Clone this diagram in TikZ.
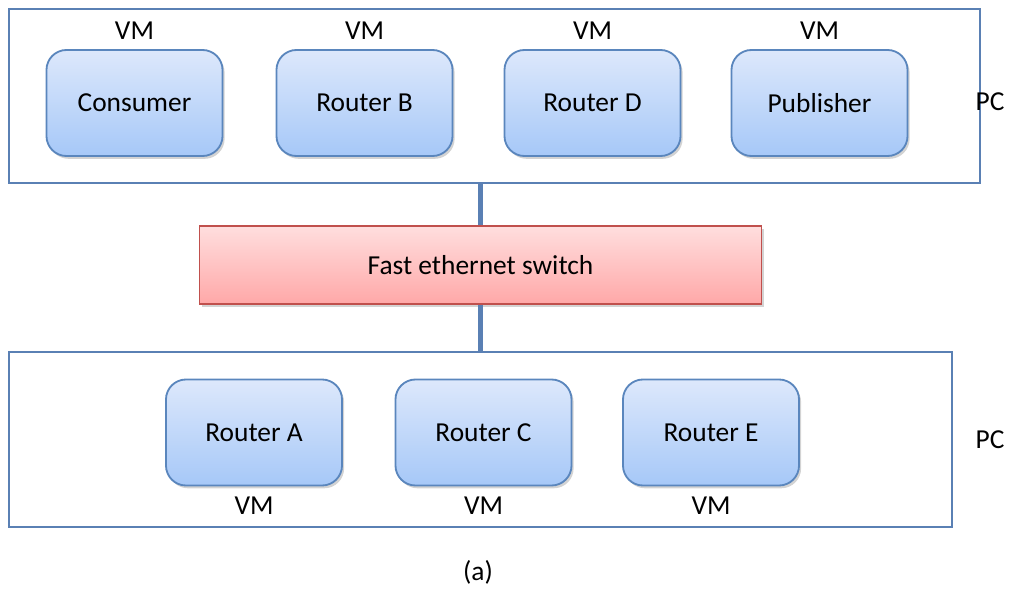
\documentclass[tikz,border=0pt]{standalone}
\usepackage{fontspec}
\setmainfont{Carlito}
\usetikzlibrary{positioning, shadows}

\definecolor{vmline}{HTML}{5A86BD}
\definecolor{vmtop}{HTML}{DDE8FB}
\definecolor{vmbottom}{HTML}{A6C8F8}
\definecolor{swline}{HTML}{C0504D}
\definecolor{swtop}{HTML}{FFDEDE}
\definecolor{swbottom}{HTML}{FFA8A8}
\definecolor{pcline}{HTML}{5A80B4}

\tikzset{
  vmbox/.style={draw=vmline, line width=1.3pt, rounded corners=0.5cm,
    top color=vmtop, bottom color=vmbottom,
    minimum width=4.4cm, minimum height=2.65cm,
    drop shadow={opacity=0.35, shadow xshift=1.5pt, shadow yshift=-2pt}},
  swbox/.style={draw=swline, line width=1.1pt,
    top color=swtop, bottom color=swbottom,
    minimum width=14.05cm, minimum height=1.95cm,
    drop shadow={opacity=0.35, shadow xshift=1.5pt, shadow yshift=-2pt}},
  pcbox/.style={draw=pcline, line width=1.3pt, inner sep=0pt},
  link/.style={draw=pcline, line width=3pt},
  lbl/.style={inner sep=0pt}
}

\begin{document}
\begin{tikzpicture}[x=0.025cm, y=-0.025cm, font=\fontsize{19.5}{23}\selectfont]
\useasboundingbox (0,0) rectangle (1012,590);
% PC frames
\node[pcbox, minimum width=24.275cm, minimum height=4.35cm] (pcTop) at (494.5,96) {};
\node[pcbox, minimum width=23.575cm, minimum height=4.375cm] (pcBottom) at (480.5,439.5) {};
\node[lbl] (pcTopLbl) at (990,102) {PC};
\node[lbl] (pcBottomLbl) at (990,440) {PC};
% switch and links
\node[swbox] (switch) at (480.5,265) {Fast ethernet switch};
\draw[link] (switch.north) -- (switch.north |- pcTop.south);
\draw[link] (switch.south) -- (switch.south |- pcBottom.north);
% upper VMs
\node[vmbox] (consumer) at (134.5,103) {Consumer};
\node[vmbox] (routerB) at (364.5,103) {Router B};
\node[vmbox] (routerD) at (592.5,103) {Router D};
\node[vmbox] (publisher) at (819.5,103) {Publisher};
\foreach \n in {consumer, routerB, routerD, publisher}
  \node[lbl, above=0.47cm of \n.north, anchor=center] {VM};
% lower VMs
\node[vmbox] (routerA) at (254,432.5) {Router A};
\node[vmbox] (routerC) at (483.5,432.5) {Router C};
\node[vmbox] (routerE) at (711,432.5) {Router E};
\foreach \n in {routerA, routerC, routerE}
  \node[lbl, below=0.47cm of \n.south, anchor=center] {VM};
\node[lbl] (caption) at (478,572) {(a)};
\end{tikzpicture}
\end{document}
